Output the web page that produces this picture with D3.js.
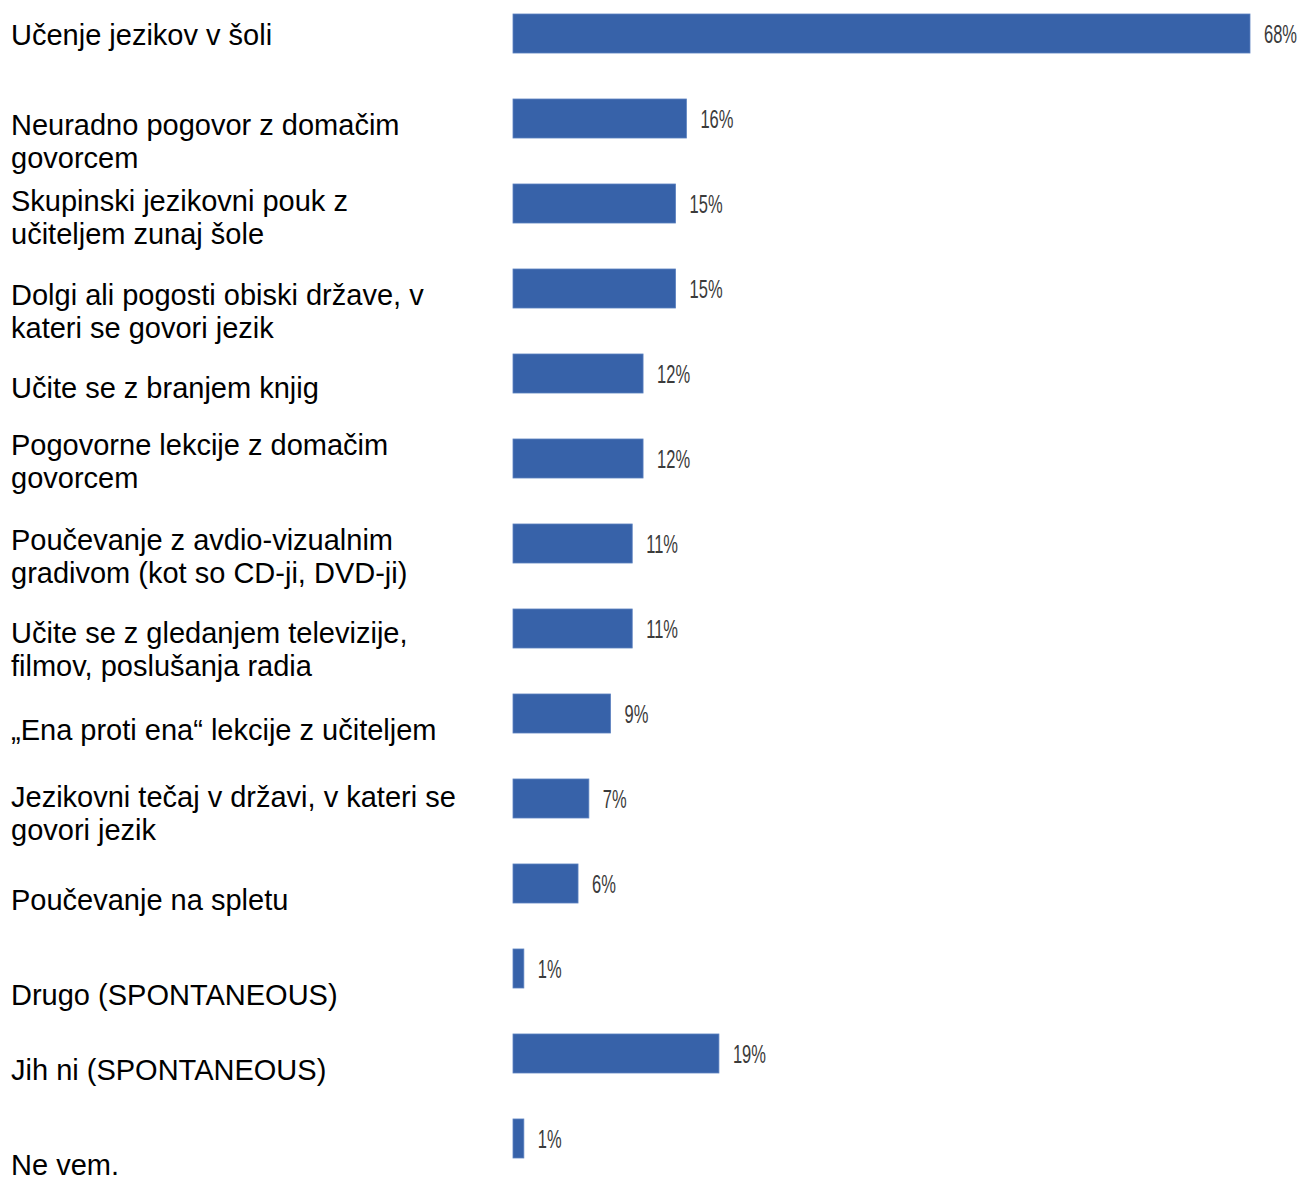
<!DOCTYPE html>
<html>
<head>
<meta charset="utf-8">
<script src="https://cdn.jsdelivr.net/npm/d3@7"></script>
<style>
  html, body { margin: 0; padding: 0; background: #ffffff; }
  svg { display: block; }
</style>
</head>
<body>
<svg id="chart" width="1301" height="1177"></svg>
<script>
// Categories (line breaks as drawn) and percentages
const categories = [
  "Učenje jezikov v šoli",
  "Neuradno pogovor z domačim\ngovorcem",
  "Skupinski jezikovni pouk z\nučiteljem zunaj šole",
  "Dolgi ali pogosti obiski države, v\nkateri se govori jezik",
  "Učite se z branjem knjig",
  "Pogovorne lekcije z domačim\ngovorcem",
  "Poučevanje z avdio-vizualnim\ngradivom (kot so CD-ji, DVD-ji)",
  "Učite se z gledanjem televizije,\nfilmov, poslušanja radia",
  "„Ena proti ena“ lekcije z učiteljem",
  "Jezikovni tečaj v državi, v kateri se\ngovori jezik",
  "Poučevanje na spletu",
  "Drugo (SPONTANEOUS)",
  "Jih ni (SPONTANEOUS)",
  "Ne vem."
];
const values = [68, 16, 15, 15, 12, 12, 11, 11, 9, 7, 6, 1, 19, 1];

// Vertical offset of each category label's first baseline from its bar's centre
const labelNudge = [11.5, 16.5, 7.5, 16.5, 24.5, -3.5, 6.5, 14.5, 26.5, 8.5, 26.5, 36.5, 26.5, 36.5];

const svg = d3.select("#chart");

const x = d3.scaleLinear().domain([0, 68]).range([513, 1250]);
const y = d3.scaleBand()
  .domain(categories)
  .range([14, 1158])
  .paddingInner(0.541)
  .paddingOuter(0);

const rows = categories.map((c, i) => ({ cat: c, value: values[i], nudge: labelNudge[i] }));

// Bars
svg.append("g").selectAll("rect")
  .data(rows)
  .join("rect")
  .attr("x", x(0))
  .attr("y", d => y(d.cat))
  .attr("width", d => x(d.value) - x(0))
  .attr("height", y.bandwidth())
  .attr("fill", "#3762a9")
  .attr("stroke", "#5c82c0")
  .attr("stroke-width", 0.8);

// Value labels (condensed)
svg.append("g").selectAll("text")
  .data(rows)
  .join("text")
  .attr("transform", d => `translate(${x(d.value) + 14},${y(d.cat) + y.bandwidth() / 2}) scale(0.66,1)`)
  .attr("dy", "0.36em")
  .attr("font-family", "'Liberation Sans', Arial, sans-serif")
  .attr("font-size", 25)
  .attr("fill", "#3b3b3b")
  .text(d => d.value + "%");

// Category labels
const lab = svg.append("g").selectAll("text")
  .data(rows)
  .join("text")
  .attr("x", 11)
  .attr("y", d => y(d.cat) + y.bandwidth() / 2 + d.nudge)
  .attr("font-family", "'Liberation Sans', Arial, sans-serif")
  .attr("font-size", 29)
  .attr("fill", "#000000");

lab.selectAll("tspan")
  .data(d => d.cat.split("\n"))
  .join("tspan")
  .attr("x", 11)
  .attr("dy", (d, i) => i === 0 ? 0 : 33)
  .text(d => d);
</script>
</body>
</html>
